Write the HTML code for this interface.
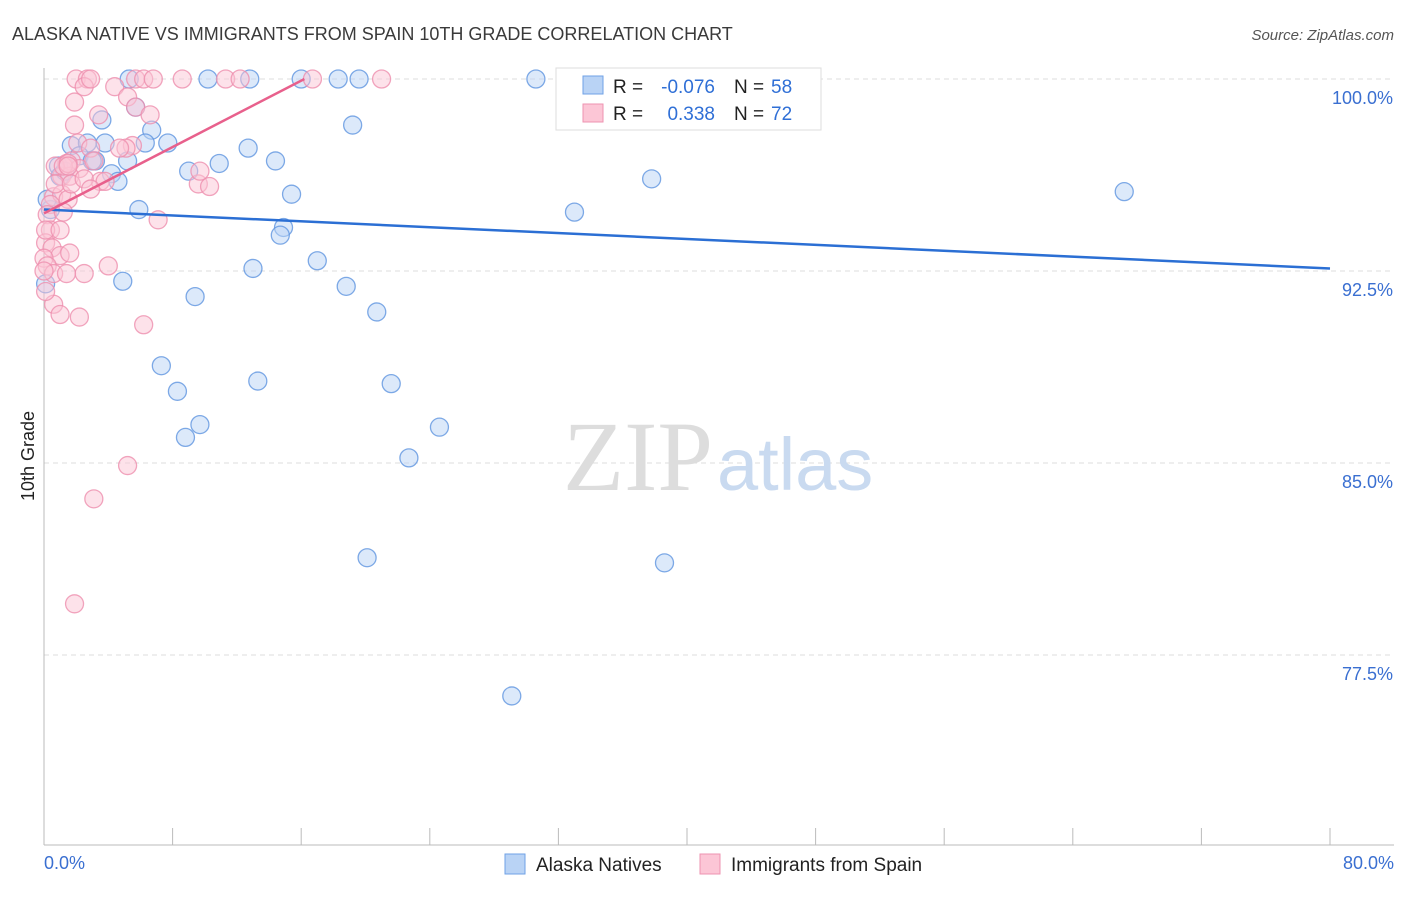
<!DOCTYPE html>
<html><head><meta charset="utf-8"><style>
body{margin:0;background:#fff;font-family:"Liberation Sans",sans-serif}
</style></head><body>
<svg width="1406" height="892" xmlns="http://www.w3.org/2000/svg">
<text x="12" y="40" font-size="18" fill="#3a3a3a">ALASKA NATIVE VS IMMIGRANTS FROM SPAIN 10TH GRADE CORRELATION CHART</text>
<text x="1394" y="40" font-size="15" fill="#555" font-style="italic" text-anchor="end">Source: ZipAtlas.com</text>
<g id="grid"></g>
<text x="713" y="490" font-size="100" fill="#ddd" font-family="Liberation Serif" text-anchor="end">ZIP</text>
<text x="717" y="490" font-size="74" fill="#c9daf0">atlas</text>
<g id="pts"></g>
<text transform="translate(34,456) rotate(-90)" font-size="18" fill="#222" text-anchor="middle">10th Grade</text>
<text x="44" y="869" font-size="18" fill="#3a6fd1">0.0%</text>
<text x="1394" y="869" font-size="18" fill="#3a6fd1" text-anchor="end">80.0%</text>
<g>
<rect x="556" y="68" width="265" height="62" fill="#fff" stroke="#ddd"/>
<rect x="583" y="76" width="20" height="18" fill="#b9d3f5" stroke="#6fa1e6"/>
<rect x="583" y="104" width="20" height="18" fill="#fcc6d6" stroke="#ee93b0"/>
<text x="613" y="93" font-size="19" fill="#222">R =</text>
<text x="715" y="93" font-size="19" fill="#2f6fd6" text-anchor="end">-0.076</text>
<text x="734" y="93" font-size="19" fill="#222">N =</text>
<text x="771" y="93" font-size="19" fill="#2f6fd6">58</text>
<text x="613" y="120" font-size="19" fill="#222">R =</text>
<text x="715" y="120" font-size="19" fill="#2f6fd6" text-anchor="end">0.338</text>
<text x="734" y="120" font-size="19" fill="#222">N =</text>
<text x="771" y="120" font-size="19" fill="#2f6fd6">72</text>
</g>
<g>
<rect x="505" y="854" width="20" height="20" fill="#b9d3f5" stroke="#6fa1e6"/>
<text x="536" y="871" font-size="19" fill="#222">Alaska Natives</text>
<rect x="700" y="854" width="20" height="20" fill="#fcc6d6" stroke="#ee93b0"/>
<text x="731" y="871" font-size="19" fill="#222">Immigrants from Spain</text>
</g>
</svg>
<script>
const yTicks=[100,92.5,85,77.5];
const yTickLabels=["100.0%","92.5%","85.0%","77.5%"];
const xTicks=[0,8,16,24,32,40,48,56,64,72,80];
const blueX=[10.2,12.8,16,18.3,19.6,30.6,41.6,44.7,5.7,19.2,6.7,3.6,1.7,2.7,3.8,6.3,7.7,12.7,2.2,3.2,5.2,10.9,14.4,0.9,4.2,4.6,9,37.8,15.4,67.2,5.9,33,14.9,14.7,17,13,4.9,18.8,9.4,20.7,7.3,13.3,21.6,8.3,9.7,8.8,24.6,22.7,20.1,38.6,29.1,0.1,0.4,1,3,1.3,0.2,5.3];
const blueY=[100,100,100,100,100,100,100,100,98.9,98.2,98,98.4,97.4,97.5,97.5,97.5,97.5,97.3,97,96.8,96.8,96.7,96.8,96.6,96.3,96,96.4,96.1,95.5,95.6,94.9,94.8,94.2,93.9,92.9,92.6,92.1,91.9,91.5,90.9,88.8,88.2,88.1,87.8,86.5,86,86.4,85.2,81.3,81.1,75.9,92,94.9,96.2,96.8,96.4,95.3,100];
const pinkX=[2,2.7,2.5,2.9,5.7,6.2,6.8,8.6,11.3,12.2,16.7,21,4.4,5.2,1.9,3.4,5.7,6.6,1.9,2.1,5.5,5.1,2.9,1.4,1.7,2.2,3.1,1.1,1.6,3.5,0.7,9.6,10.3,9.7,0.6,1.1,1.5,0.4,0.2,1.2,7.1,0.4,0.1,0.5,1,0,1.6,0.2,0.6,1.4,2.5,4,0.6,1,2.2,6.2,5.2,3.1,1.9,3.8,4.7,0.7,1.7,0.1,1,0,0.1,2.5,2.9,1.2,1.5,1.5];
const pinkY=[100,100,99.7,100,100,100,100,100,100,100,100,100,99.7,99.3,99.1,98.6,98.9,98.6,98.2,97.5,97.4,97.3,97.3,96.7,96.8,96.5,96.8,96.2,96.2,96,96.6,95.9,95.8,96.4,95.4,95.5,95.3,95.1,94.7,94.8,94.5,94.1,93.6,93.4,93.1,93,93.2,92.7,92.4,92.4,92.4,92.7,91.2,90.8,90.7,90.4,84.9,83.6,79.5,96,97.3,95.9,95.9,94.1,94.1,92.5,91.7,96.1,95.7,96.6,96.7,96.6];
const blueTrend=[[0,94.9],[80,92.6]];
const pinkTrend=[[0,94.75],[16.2,100]];
const X=v=>44+v/80*1286, Y=v=>79+(100-v)/7.5*192;
const NS="http://www.w3.org/2000/svg";
function mk(t,a,p){const e=document.createElementNS(NS,t);for(const k in a)e.setAttribute(k,a[k]);p.appendChild(e);return e;}
const g=document.getElementById('grid'),P=document.getElementById('pts');
yTicks.forEach((t,i)=>{const l=mk('line',{x1:44,x2:1394,y1:Y(t),y2:Y(t),stroke:'#ddd','stroke-dasharray':'5,4'},g);


const tx=mk('text',{x:1393,y:Y(t)+25,'font-size':18,fill:'#3a6fd1','text-anchor':'end'},g);tx.textContent=yTickLabels[i];

});
const ax=mk('line',{x1:44,x2:44,y1:68,y2:845,stroke:'#bbb'},g);


const bx=mk('line',{x1:44,x2:1394,y1:845,y2:845,stroke:'#bbb'},g);


xTicks.forEach(t=>{const l=mk('line',{x1:X(t),x2:X(t),y1:828,y2:845,stroke:'#bbb'},g);

});
function pts(xs,ys,f,s,n){xs.forEach((x,i)=>{const c=mk('circle',{cx:X(x),cy:Y(ys[i]),r:9,fill:f,'fill-opacity':0.5,stroke:s,'stroke-width':1.3,'stroke-opacity':0.8},P);

});}
pts(blueX,blueY,'#b9d3f5','#5f95e0','alaska-native-point');
pts(pinkX,pinkY,'#fcc6d6','#ee8fae','spain-immigrant-point');
const bl=mk('line',{x1:X(blueTrend[0][0]),y1:Y(blueTrend[0][1]),x2:X(blueTrend[1][0]),y2:Y(blueTrend[1][1]),stroke:'#2b6fd4','stroke-width':2.5},P);


const pl=mk('line',{x1:X(pinkTrend[0][0]),y1:Y(pinkTrend[0][1]),x2:X(pinkTrend[1][0]),y2:Y(pinkTrend[1][1]),stroke:'#e8608c','stroke-width':2.5},P);


</script>
</body></html>
